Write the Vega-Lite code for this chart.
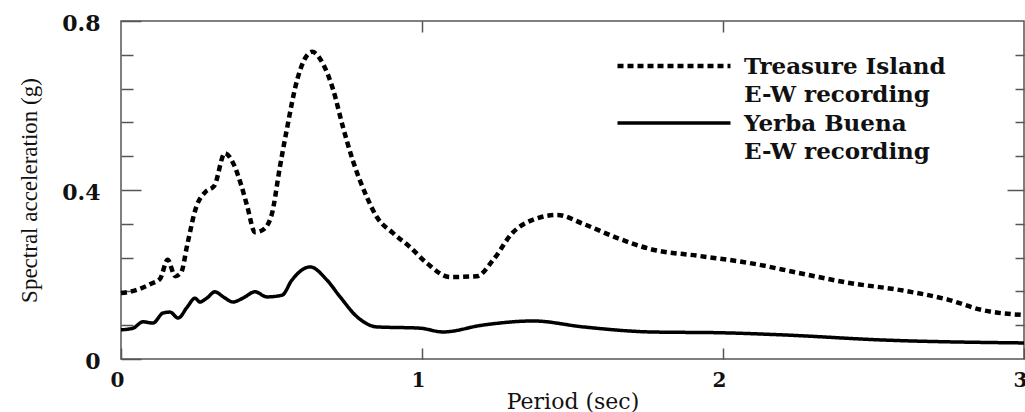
{
  "$schema": "https://vega.github.io/schema/vega-lite/v6.json",
  "width": 903,
  "height": 338,
  "autosize": {"type": "none"},
  "padding": {"left": 121, "top": 21, "right": 1, "bottom": 53},
  "background": "white",
  "config": {
    "view": {"stroke": "#555", "strokeWidth": 1.5},
    "axis": {"grid": false, "domain": false, "tickColor": "#555", "tickWidth": 1.5, "labelFlush": false, "labelOverlap": false, "labelBound": false}
  },
  "data": {
    "values": [
      {"period": 0.0, "sa": 0.156, "series": "Treasure Island"},
      {"period": 0.05, "sa": 0.163, "series": "Treasure Island"},
      {"period": 0.1, "sa": 0.178, "series": "Treasure Island"},
      {"period": 0.13, "sa": 0.19, "series": "Treasure Island"},
      {"period": 0.155, "sa": 0.235, "series": "Treasure Island"},
      {"period": 0.18, "sa": 0.196, "series": "Treasure Island"},
      {"period": 0.2, "sa": 0.205, "series": "Treasure Island"},
      {"period": 0.22, "sa": 0.27, "series": "Treasure Island"},
      {"period": 0.25, "sa": 0.36, "series": "Treasure Island"},
      {"period": 0.28, "sa": 0.395, "series": "Treasure Island"},
      {"period": 0.31, "sa": 0.41, "series": "Treasure Island"},
      {"period": 0.345, "sa": 0.487, "series": "Treasure Island"},
      {"period": 0.375, "sa": 0.46, "series": "Treasure Island"},
      {"period": 0.4, "sa": 0.41, "series": "Treasure Island"},
      {"period": 0.42, "sa": 0.36, "series": "Treasure Island"},
      {"period": 0.445, "sa": 0.3, "series": "Treasure Island"},
      {"period": 0.47, "sa": 0.305, "series": "Treasure Island"},
      {"period": 0.5, "sa": 0.34, "series": "Treasure Island"},
      {"period": 0.528, "sa": 0.455, "series": "Treasure Island"},
      {"period": 0.55, "sa": 0.54, "series": "Treasure Island"},
      {"period": 0.585, "sa": 0.66, "series": "Treasure Island"},
      {"period": 0.635, "sa": 0.727, "series": "Treasure Island"},
      {"period": 0.67, "sa": 0.7, "series": "Treasure Island"},
      {"period": 0.705, "sa": 0.637, "series": "Treasure Island"},
      {"period": 0.737, "sa": 0.55, "series": "Treasure Island"},
      {"period": 0.77, "sa": 0.47, "series": "Treasure Island"},
      {"period": 0.817, "sa": 0.383, "series": "Treasure Island"},
      {"period": 0.85, "sa": 0.336, "series": "Treasure Island"},
      {"period": 0.904, "sa": 0.298, "series": "Treasure Island"},
      {"period": 0.96, "sa": 0.265, "series": "Treasure Island"},
      {"period": 1.016, "sa": 0.227, "series": "Treasure Island"},
      {"period": 1.093, "sa": 0.194, "series": "Treasure Island"},
      {"period": 1.183, "sa": 0.196, "series": "Treasure Island"},
      {"period": 1.236, "sa": 0.234, "series": "Treasure Island"},
      {"period": 1.3, "sa": 0.298, "series": "Treasure Island"},
      {"period": 1.37, "sa": 0.33, "series": "Treasure Island"},
      {"period": 1.45, "sa": 0.341, "series": "Treasure Island"},
      {"period": 1.535, "sa": 0.32, "series": "Treasure Island"},
      {"period": 1.65, "sa": 0.286, "series": "Treasure Island"},
      {"period": 1.76, "sa": 0.26, "series": "Treasure Island"},
      {"period": 1.92, "sa": 0.244, "series": "Treasure Island"},
      {"period": 2.09, "sa": 0.227, "series": "Treasure Island"},
      {"period": 2.256, "sa": 0.203, "series": "Treasure Island"},
      {"period": 2.42, "sa": 0.18, "series": "Treasure Island"},
      {"period": 2.59, "sa": 0.163, "series": "Treasure Island"},
      {"period": 2.75, "sa": 0.14, "series": "Treasure Island"},
      {"period": 2.86, "sa": 0.116, "series": "Treasure Island"},
      {"period": 3.0, "sa": 0.104, "series": "Treasure Island"},
      {"period": 0.0, "sa": 0.069, "series": "Yerba Buena"},
      {"period": 0.04, "sa": 0.073, "series": "Yerba Buena"},
      {"period": 0.073, "sa": 0.088, "series": "Yerba Buena"},
      {"period": 0.106, "sa": 0.085, "series": "Yerba Buena"},
      {"period": 0.14, "sa": 0.109, "series": "Yerba Buena"},
      {"period": 0.163, "sa": 0.111, "series": "Yerba Buena"},
      {"period": 0.19, "sa": 0.097, "series": "Yerba Buena"},
      {"period": 0.22, "sa": 0.123, "series": "Yerba Buena"},
      {"period": 0.246, "sa": 0.144, "series": "Yerba Buena"},
      {"period": 0.262, "sa": 0.135, "series": "Yerba Buena"},
      {"period": 0.285, "sa": 0.144, "series": "Yerba Buena"},
      {"period": 0.312, "sa": 0.159, "series": "Yerba Buena"},
      {"period": 0.34, "sa": 0.147, "series": "Yerba Buena"},
      {"period": 0.372, "sa": 0.135, "series": "Yerba Buena"},
      {"period": 0.405, "sa": 0.144, "series": "Yerba Buena"},
      {"period": 0.445, "sa": 0.159, "series": "Yerba Buena"},
      {"period": 0.485, "sa": 0.147, "series": "Yerba Buena"},
      {"period": 0.535, "sa": 0.151, "series": "Yerba Buena"},
      {"period": 0.568, "sa": 0.187, "series": "Yerba Buena"},
      {"period": 0.628, "sa": 0.218, "series": "Yerba Buena"},
      {"period": 0.684, "sa": 0.187, "series": "Yerba Buena"},
      {"period": 0.728, "sa": 0.147, "series": "Yerba Buena"},
      {"period": 0.784, "sa": 0.1, "series": "Yerba Buena"},
      {"period": 0.85, "sa": 0.076, "series": "Yerba Buena"},
      {"period": 0.993, "sa": 0.073, "series": "Yerba Buena"},
      {"period": 1.07, "sa": 0.064, "series": "Yerba Buena"},
      {"period": 1.2, "sa": 0.08, "series": "Yerba Buena"},
      {"period": 1.37, "sa": 0.09, "series": "Yerba Buena"},
      {"period": 1.535, "sa": 0.076, "series": "Yerba Buena"},
      {"period": 1.76, "sa": 0.064, "series": "Yerba Buena"},
      {"period": 2.0, "sa": 0.062, "series": "Yerba Buena"},
      {"period": 2.2, "sa": 0.057, "series": "Yerba Buena"},
      {"period": 2.53, "sa": 0.045, "series": "Yerba Buena"},
      {"period": 3.0, "sa": 0.038, "series": "Yerba Buena"}
    ]
  },
  "layer": [
    {
      "mark": {"type": "line", "interpolate": "monotone", "color": "black", "strokeCap": "butt"},
      "encoding": {
        "x": {
          "field": "period", "type": "quantitative",
          "scale": {"domain": [0, 3], "nice": false, "zero": false},
          "axis": {
            "orient": "bottom", "values": [0, 1, 2, 3], "tickSize": -11,
            "labelFont": "DejaVu Serif", "labelFontWeight": "bold", "labelFontSize": 20, "labelColor": "#111",
            "labelPadding": 22, "labelOffset": -4, "labelBaseline": "top",
            "title": "Period (sec)", "titleFont": "DejaVu Serif", "titleFontWeight": "normal", "titleFontSize": 22,
            "titleColor": "#111", "titlePadding": 1
          }
        },
        "y": {
          "field": "sa", "type": "quantitative",
          "scale": {"domain": [0, 0.8], "nice": false},
          "axis": {
            "orient": "left", "values": [0, 0.4, 0.8], "tickSize": -20,
            "labelExpr": "datum.value == 0 ? '0' : format(datum.value, '.1f')",
            "labelFont": "DejaVu Serif", "labelFontWeight": "bold", "labelFontSize": 22, "labelColor": "#111",
            "labelPadding": 41, "labelOffset": 2,
            "title": "Spectral acceleration (g)", "titleFont": "Liberation Serif", "titleFontWeight": "normal",
            "titleFontSize": 23, "titleColor": "#111", "titlePadding": 20
          }
        },
        "strokeDash": {
          "field": "series", "type": "nominal",
          "scale": {"domain": ["Treasure Island", "Yerba Buena"], "range": [[6, 4], [1, 0]]},
          "legend": {
            "orient": "none", "legendX": 494, "legendY": 35, "title": null, "padding": 0,
            "symbolType": "stroke", "symbolSize": 12769, "symbolStrokeWidth": 4, "symbolStrokeColor": "black",
            "clipHeight": 20, "rowPadding": 6,
            "labelFont": "DejaVu Serif", "labelFontWeight": "bold", "labelFontSize": 23, "labelColor": "#111", "labelOffset": 11, "labelLimit": 0,
            "labelExpr": "[datum.label, 'E-W recording']",
            "encode": {"labels": {"update": {"lineHeight": {"value": 28}, "dy": {"value": 1}}}}
          }
        },
        "strokeWidth": {
          "field": "series", "type": "nominal",
          "scale": {"domain": ["Treasure Island", "Yerba Buena"], "range": [4.5, 3.5]},
          "legend": null
        }
      }
    },
    {
      "mark": {"type": "line", "strokeOpacity": 0},
      "encoding": {
        "x": {"field": "period", "type": "quantitative", "scale": {"domain": [0, 3], "nice": false, "zero": false},
              "axis": {"orient": "top", "values": [1, 2], "tickSize": -11, "labels": false, "title": null}},
        "y": {"field": "sa", "type": "quantitative", "scale": {"domain": [0, 0.8], "nice": false},
              "axis": {"orient": "left", "values": [0.08, 0.16, 0.24, 0.32, 0.48, 0.56, 0.64, 0.72], "tickSize": -12, "labels": false, "title": null}}
      }
    },
    {
      "mark": {"type": "line", "strokeOpacity": 0},
      "encoding": {
        "x": {"field": "period", "type": "quantitative", "scale": {"domain": [0, 3], "nice": false, "zero": false}, "axis": null},
        "y": {"field": "sa", "type": "quantitative", "scale": {"domain": [0, 0.8], "nice": false},
              "axis": {"orient": "right", "values": [0.08, 0.16, 0.24, 0.32, 0.48, 0.56, 0.64, 0.72], "tickSize": -9, "labels": false, "title": null}}
      }
    },
    {
      "mark": {"type": "line", "strokeOpacity": 0},
      "encoding": {
        "x": {"field": "period", "type": "quantitative", "scale": {"domain": [0, 3], "nice": false, "zero": false}, "axis": null},
        "y": {"field": "sa", "type": "quantitative", "scale": {"domain": [0, 0.8], "nice": false},
              "axis": {"orient": "right", "values": [0.4], "tickSize": -17, "labels": false, "title": null}}
      }
    }
  ],
  "resolve": {"axis": {"x": "independent", "y": "independent"}}
}
